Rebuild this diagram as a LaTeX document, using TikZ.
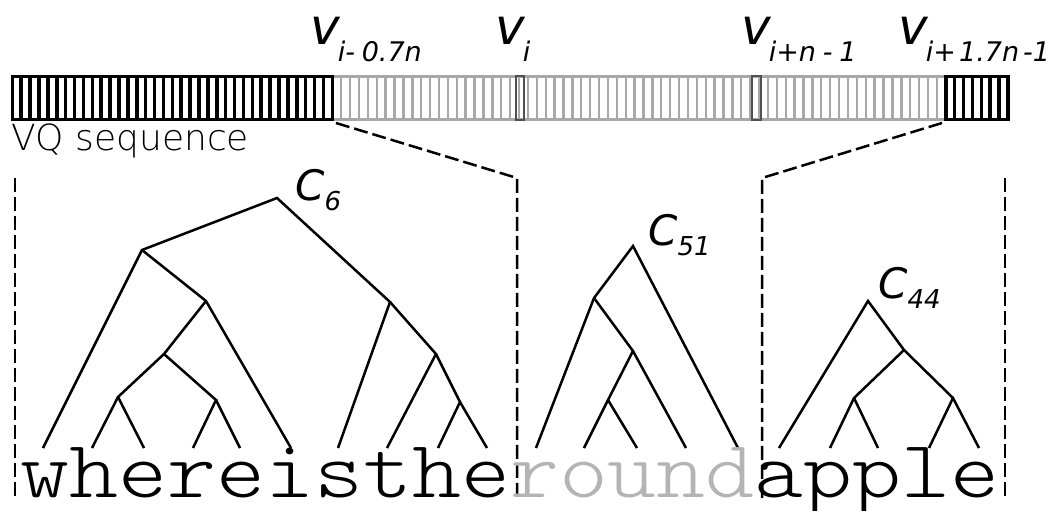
\documentclass[tikz,border=0pt]{standalone}
\usepackage{fontspec}
\setmainfont{DejaVu Sans}
\newfontfamily\labelfont{DejaVu Sans}
\newfontfamily\lightfont{DejaVuSans-ExtraLight.ttf}
\newfontfamily\monofont{lmmonolt10-regular.otf}
\definecolor{wordgray}{HTML}{B4B4B4}
\definecolor{cellgray}{HTML}{A8A8A8}
\definecolor{markgray}{HTML}{505050}
\tikzset{
  blackcell/.style={draw=black, line width=3.5pt, fill=white},
  graycell/.style={draw=cellgray, line width=2.4pt, fill=white},
  markcell/.style={draw=markgray, line width=2pt},
  sep/.style={draw=black, line width=2.5pt, dash pattern=on 14pt off 5pt},
  edge/.style={draw=black, line width=2.5pt},
  vlab/.style={anchor=base west, inner sep=0pt, font=\labelfont\itshape\fontsize{50}{50}\selectfont},
  clab/.style={anchor=base west, inner sep=0pt, font=\labelfont\itshape\fontsize{42}{42}\selectfont},
}
\newcommand{\vsub}[1]{\kern-2pt\raisebox{-17pt}{\fontsize{27}{27}\selectfont #1}}
\newcommand{\csub}[1]{\raisebox{-10pt}{\fontsize{26}{26}\selectfont #1}}
\begin{document}
\begin{tikzpicture}[x=1pt,y=-1pt]
\useasboundingbox (0,0) rectangle (1055,511);
% VQ bar
\foreach \k in {36,...,104}
  \draw[graycell] ({12.3+\k*8.89},76.5) rectangle ++(8.89,43);
\foreach \k in {0,...,35}
  \draw[blackcell] ({12.3+\k*8.89},76.5) rectangle ++(8.89,43);
\foreach \k in {105,...,111}
  \draw[blackcell] ({12.3+\k*8.89},76.5) rectangle ++(8.89,43);
\draw[markcell] (515.5,76.5) rectangle (524,119.5);
\draw[markcell] (752,76.5) rectangle (760.5,119.5);
% labels
\node[vlab] (vA) at (310,45) {v\vsub{i-\hspace{0.25em}0.7n}};
\node[vlab] (vB) at (495,45) {v\vsub{i}};
\node[vlab] (vC) at (741,45) {v\vsub{i+n\hspace{0.25em}-\hspace{0.25em}1}};
\node[vlab] (vD) at (898,45) {v\vsub{i+\hspace{0.12em}1.7n\hspace{0.15em}-1}};
\node[anchor=base west, inner sep=0pt, font=\lightfont\fontsize{36}{36}\selectfont] (vq) at (11,150) {VQ sequence};
% separators
\coordinate (g1) at (336,123);
\coordinate (g2) at (942,123);
\coordinate (s1t) at (15,178);
\coordinate (s1b) at (15,501);
\coordinate (s2t) at (517,178);
\coordinate (s2b) at (517,501);
\coordinate (s3t) at (762,178);
\coordinate (s3b) at (762,501);
\coordinate (s4t) at (1005,178);
\coordinate (s4b) at (1005,501);
\draw[sep] (s1t) -- (s1b);
\draw[sep] (g1) -- (s2t) -- (s2b);
\draw[sep] (g2) -- (s3t) -- (s3b);
\draw[sep] (s4t) -- (s4b);
% tree 1
\coordinate (t1r) at (277,198);
\coordinate (t1a) at (142,250);
\coordinate (t1b) at (390,302);
\coordinate (t1c) at (206,301);
\coordinate (t1d) at (164,354);
\coordinate (t1e) at (118,397);
\coordinate (t1f) at (216,400);
\coordinate (t1g) at (436,354);
\coordinate (t1h) at (460,402);
\foreach \i/\x in {1/43,2/92,3/144,4/193,5/240,6/291,7/338,8/387,9/438,10/487}
  \coordinate (p\i) at (\x,448);
\draw[edge] (p1) -- (t1a) -- (t1r) -- (t1b) -- (p7);
\draw[edge] (t1a) -- (t1c) -- (p6);
\draw[edge] (t1c) -- (t1d) -- (t1e) -- (p2);
\draw[edge] (t1e) -- (p3);
\draw[edge] (t1d) -- (t1f) -- (p4);
\draw[edge] (t1f) -- (p5);
\draw[edge] (t1b) -- (t1g) -- (p8);
\draw[edge] (t1g) -- (t1h) -- (p9);
\draw[edge] (t1h) -- (p10);
% tree 2
\coordinate (t2r) at (633,246);
\coordinate (t2a) at (594,298);
\coordinate (t2b) at (633,351);
\coordinate (t2c) at (608,400);
\foreach \i/\x in {1/536,2/584,3/637,4/686,5/738}
  \coordinate (q\i) at (\x,448);
\draw[edge] (q1) -- (t2a) -- (t2r) -- (q5);
\draw[edge] (t2a) -- (t2b) -- (q4);
\draw[edge] (t2b) -- (t2c) -- (q2);
\draw[edge] (t2c) -- (q3);
% tree 3
\coordinate (t3r) at (868,301);
\coordinate (t3a) at (904,350);
\coordinate (t3b) at (854,398);
\coordinate (t3c) at (953,398);
\foreach \i/\x in {1/779,2/830,3/878,4/929,5/979}
  \coordinate (r\i) at (\x,448);
\draw[edge] (r1) -- (t3r) -- (t3a) -- (t3c) -- (r5);
\draw[edge] (t3a) -- (t3b) -- (r2);
\draw[edge] (t3b) -- (r3);
\draw[edge] (t3c) -- (r4);
% cluster labels
\node[clab] (c6) at (295,200) {C\csub{6}};
\node[clab] (c51) at (648,245) {C\csub{51}};
\node[clab] (c44) at (878,298) {C\csub{44}};
% words
\node[anchor=base west, inner sep=0pt] (words) at (20,497)
  {\scalebox{1.142}[1]{\monofont\fontsize{81.7}{82}\selectfont whereisthe\textcolor{wordgray}{round}apple}};
\end{tikzpicture}
\end{document}
